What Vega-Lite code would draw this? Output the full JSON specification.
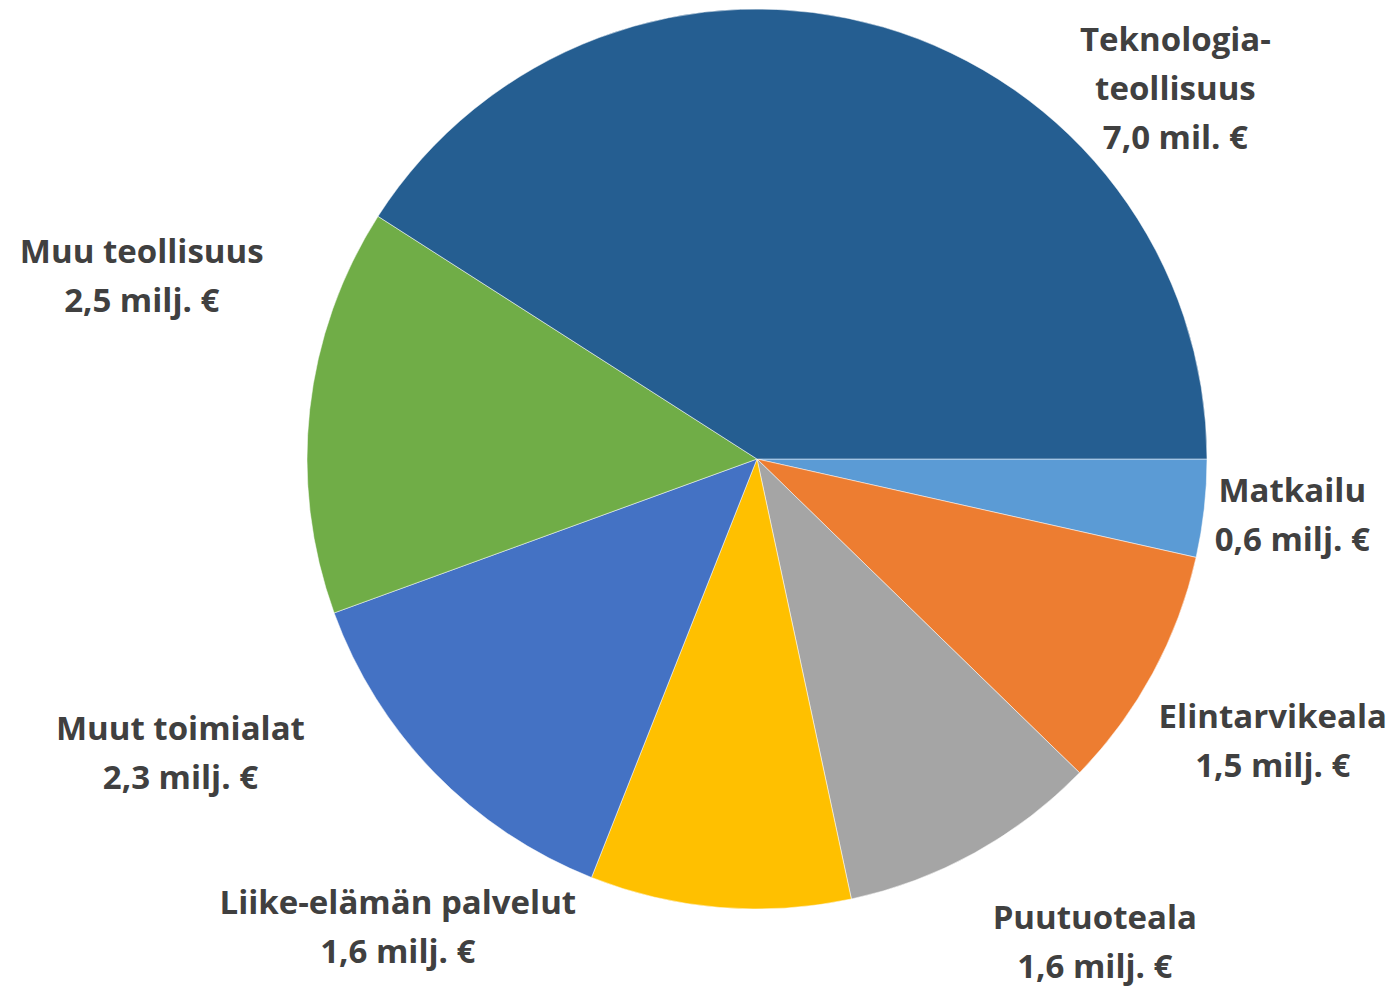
{
  "$schema": "https://vega.github.io/schema/vega-lite/v6.json",
  "width": 900,
  "height": 900,
  "autosize": {"type": "none"},
  "padding": {"left": 307, "top": 9, "right": 187, "bottom": 81},
  "background": "white",
  "config": {"view": {"stroke": null}, "text": {"font": "Open Sans", "fontWeight": "bold", "fontSize": 33, "lineHeight": 49, "lineBreak": "\n", "color": "#404040", "align": "center", "baseline": "middle"}},
  "data": {
    "values": [
      {"name": "Matkailu", "value": 0.6, "order": 1, "label": "Matkailu\n0,6 milj. €"},
      {"name": "Elintarvikeala", "value": 1.5, "order": 2, "label": "Elintarvikeala\n1,5 milj. €"},
      {"name": "Puutuoteala", "value": 1.6, "order": 3, "label": "Puutuoteala\n1,6 milj. €"},
      {"name": "Liike-elämän palvelut", "value": 1.6, "order": 4, "label": "Liike-elämän palvelut\n1,6 milj. €"},
      {"name": "Muut toimialat", "value": 2.3, "order": 5, "label": "Muut toimialat\n2,3 milj. €"},
      {"name": "Muu teollisuus", "value": 2.5, "order": 6, "label": "Muu teollisuus\n2,5 milj. €"},
      {"name": "Teknologiateollisuus", "value": 7.0, "order": 7, "label": "Teknologia-\nteollisuus\n7,0 mil. €"}
    ]
  },
  "encoding": {
    "theta": {"field": "value", "type": "quantitative", "stack": true, "scale": {"range": [1.5707963, 7.8539816]}},
    "order": {"field": "order", "type": "quantitative", "sort": "ascending"}
  },
  "layer": [
    {
      "mark": {"type": "arc", "stroke": "white", "strokeWidth": 0.5},
      "encoding": {
        "color": {
          "field": "name",
          "type": "nominal",
          "legend": null,
          "scale": {
            "domain": ["Matkailu", "Elintarvikeala", "Puutuoteala", "Liike-elämän palvelut", "Muut toimialat", "Muu teollisuus", "Teknologiateollisuus"],
            "range": ["#5B9BD5", "#ED7D31", "#A5A5A5", "#FFC000", "#4472C4", "#70AD47", "#255E91"]
          }
        }
      }
    },
    {
      "mark": {"type": "text", "radius": 450, "dx": 88, "dy": -17},
      "encoding": {"text": {"condition": {"test": "datum.name === 'Matkailu'", "field": "label"}, "value": ""}}
    },
    {
      "mark": {"type": "text", "radius": 450, "dx": 120, "dy": 45},
      "encoding": {"text": {"condition": {"test": "datum.name === 'Elintarvikeala'", "field": "label"}, "value": ""}}
    },
    {
      "mark": {"type": "text", "radius": 450, "dx": 120, "dy": 66},
      "encoding": {"text": {"condition": {"test": "datum.name === 'Puutuoteala'", "field": "label"}, "value": ""}}
    },
    {
      "mark": {"type": "text", "radius": 450, "dx": -322, "dy": -3},
      "encoding": {"text": {"condition": {"test": "datum.name === 'Liike-elämän palvelut'", "field": "label"}, "value": ""}}
    },
    {
      "mark": {"type": "text", "radius": 450, "dx": -254, "dy": -43},
      "encoding": {"text": {"condition": {"test": "datum.name === 'Muut toimialat'", "field": "label"}, "value": ""}}
    },
    {
      "mark": {"type": "text", "radius": 450, "dx": -168, "dy": -156},
      "encoding": {"text": {"condition": {"test": "datum.name === 'Muu teollisuus'", "field": "label"}, "value": ""}}
    },
    {
      "mark": {"type": "text", "radius": 450, "dx": 292, "dy": 14},
      "encoding": {"text": {"condition": {"test": "datum.name === 'Teknologiateollisuus'", "field": "label"}, "value": ""}}
    }
  ]
}
